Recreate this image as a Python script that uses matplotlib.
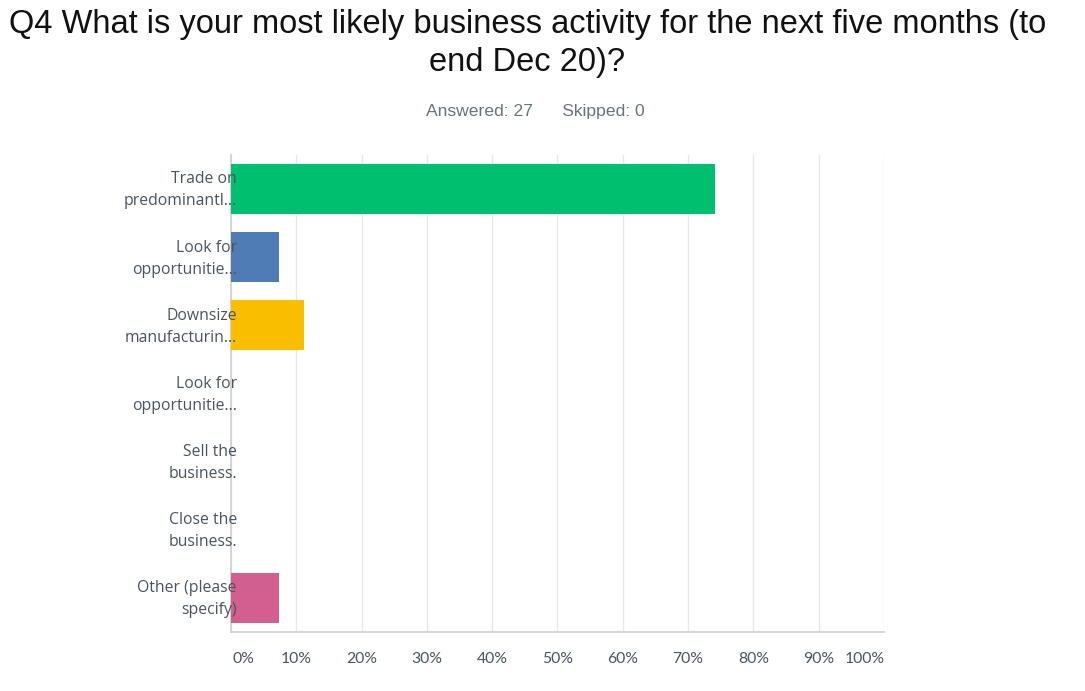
import numpy as np
import matplotlib.pyplot as plt
import matplotlib.transforms as mtransforms

labels = ["Trade on\npredominantl...", "Look for\nopportunitie...", "Downsize\nmanufacturin...",
          "Look for\nopportunitie...", "Sell the\nbusiness.", "Close the\nbusiness.",
          "Other (please\nspecify)"]
values = [74.07, 7.41, 11.11, 0.0, 0.0, 0.0, 7.41]
colors = ["#00bf6f", "#507cb6", "#f9be00", "#6bc8cd", "#ff8b4f", "#7d5da6", "#d25f90"]
ticks = list(range(0, 101, 10))
tick_labels = [f"{t}%" for t in ticks]

fig = plt.figure(figsize=(10.85, 6.91), dpi=100)
ax = fig.add_axes([0.2129, 0.0854, 0.6018, 0.6903])

y = np.arange(len(labels))
ax.barh(y, values, height=0.73, color=colors, zorder=3)
ax.set_ylim(len(labels) - 0.5, -0.5)
ax.set_xlim(0, 100)

ax.set_xticks(ticks)
ax.set_xticklabels([])
ax.tick_params(axis='both', length=0)
ax.set_yticks([])
ax.grid(axis='x', color='#e8e8e8', linewidth=1, zorder=0)
for s in ['top', 'right']:
    ax.spines[s].set_visible(False)
ax.spines['left'].set_color('#cfcfcf')
ax.spines['bottom'].set_color('#cfcfcf')
ax.spines['left'].set_linewidth(1.2)
ax.spines['bottom'].set_linewidth(1.2)

txt = '#4a5460'
# category labels
trans = mtransforms.blended_transform_factory(ax.transAxes, ax.transData)
for yi, lab in zip(y, labels):
    ax.text(0.009, yi + 0.02, lab, transform=trans, ha='right', va='center', fontsize=11.3,
            family='Open Sans', color=txt, linespacing=1.5, zorder=4)

# x tick labels
xtrans = mtransforms.blended_transform_factory(ax.transData, ax.transAxes)
for t, tl in zip(ticks, tick_labels):
    off = 1.9 if t == 0 else (-2.9 if t == 100 else 0)
    ax.text(t + off, -0.057, tl, transform=xtrans, ha='center', va='center',
            fontsize=11.3, family='Lato', color=txt)

fig.text(0.486, 0.937, "Q4 What is your most likely business activity for the next five months (to\nend Dec 20)?",
         ha='center', va='center', fontsize=23.5, family='Liberation Sans', color='#111111',
         linespacing=1.27)
fig.text(0.493, 0.839, "Answered: 27      Skipped: 0", ha='center', va='center',
         fontsize=12.6, family='Liberation Sans', color='#6a737d')

fig.savefig('out.png', dpi=100)
